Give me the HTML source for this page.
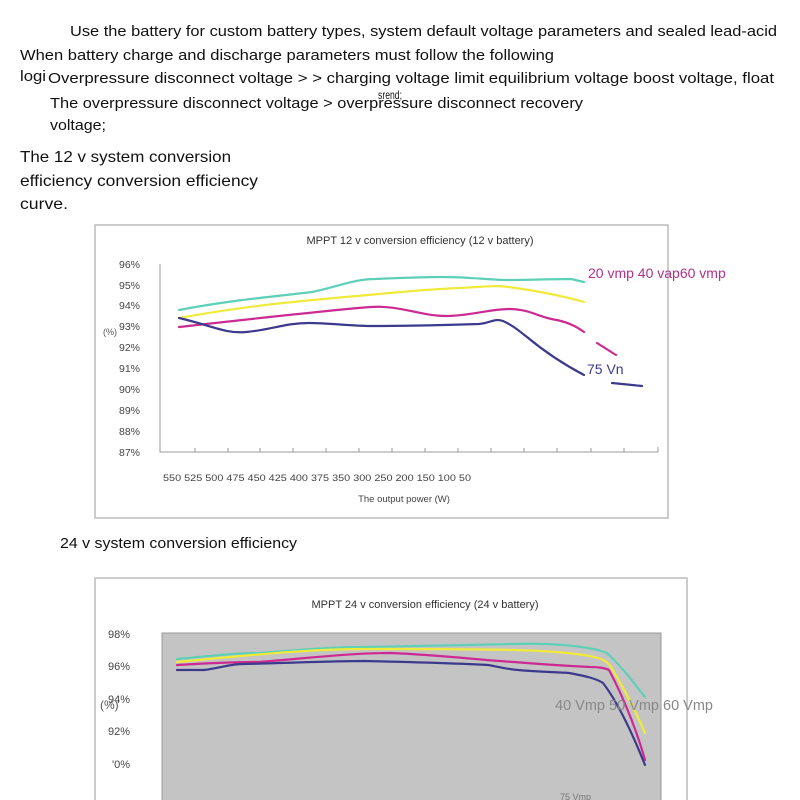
<!DOCTYPE html>
<html><head><meta charset="utf-8"><style>
html,body{margin:0;padding:0;background:#fff;}
svg{display:block;font-family:"Liberation Sans",sans-serif;}
</style></head><body>
<svg width="800" height="800" viewBox="0 0 800 800" xmlns="http://www.w3.org/2000/svg">
<rect width="800" height="800" fill="#fff"/>
<g fill="#111" font-size="15">
<text x="70" y="36" textLength="707" lengthAdjust="spacingAndGlyphs">Use the battery for custom battery types, system default voltage parameters and sealed lead-acid</text>
<text x="20" y="60" textLength="534" lengthAdjust="spacingAndGlyphs">When battery charge and discharge parameters must follow the following</text>
<text x="20" y="81" textLength="26" lengthAdjust="spacingAndGlyphs">logi</text>
<text x="48" y="83" textLength="726" lengthAdjust="spacingAndGlyphs">Overpressure disconnect voltage &gt; &gt; charging voltage limit equilibrium voltage boost voltage, float</text>
<text x="50" y="108" textLength="533" lengthAdjust="spacingAndGlyphs">The overpressure disconnect voltage &gt; overpressure disconnect recovery</text>
<text x="378" y="99" font-size="12" textLength="24" lengthAdjust="spacingAndGlyphs">srend;</text>
<text x="50" y="130" textLength="56" lengthAdjust="spacingAndGlyphs">voltage;</text>
<text x="20" y="162" font-size="16" textLength="211" lengthAdjust="spacingAndGlyphs">The 12 v system conversion</text>
<text x="20" y="186" font-size="16" textLength="238" lengthAdjust="spacingAndGlyphs">efficiency conversion efficiency</text>
<text x="20" y="209" font-size="16" textLength="48" lengthAdjust="spacingAndGlyphs">curve.</text>
<text x="60" y="548" font-size="15" textLength="237" lengthAdjust="spacingAndGlyphs">24 v system conversion efficiency</text>
</g>

<!-- Chart 1 -->
<rect x="95" y="225" width="573" height="293" fill="#fff" stroke="#bbb" stroke-width="1.5"/>
<text x="420" y="244" font-size="11" fill="#333" text-anchor="middle">MPPT 12 v conversion efficiency (12 v battery)</text>
<g font-size="10.5" fill="#444" text-anchor="end">
<text x="140" y="268">96%</text><text x="140" y="289">95%</text><text x="140" y="309">94%</text>
<text x="140" y="330">93%</text><text x="140" y="351">92%</text><text x="140" y="372">91%</text>
<text x="140" y="393">90%</text><text x="140" y="414">89%</text><text x="140" y="435">88%</text>
<text x="140" y="456">87%</text>
</g>
<text x="103" y="335" font-size="9" fill="#555">(%)</text>
<path d="M160 264 V452 H658" fill="none" stroke="#999" stroke-width="1"/>
<g stroke="#999" stroke-width="1">
<path d="M195 452v-4M228 452v-4M260 452v-4M293 452v-4M326 452v-4M359 452v-4M392 452v-4M425 452v-4M458 452v-4M491 452v-4M524 452v-4M557 452v-4M591 452v-4M624 452v-4M658 452v-5"/>
</g>
<text x="163" y="481" font-size="9.5" fill="#444" textLength="308" lengthAdjust="spacingAndGlyphs">550 525 500 475 450 425 400 375 350 300 250 200 150 100 50</text>
<text x="404" y="502" font-size="9.5" fill="#444" text-anchor="middle">The output power (W)</text>
<g fill="none" stroke-width="2.2" stroke-linecap="round" stroke-linejoin="round">
<path stroke="#5fd0b8" d="M179 310 C230 300 280 296 312 292 C340 286 355 279 375 279 C400 278 420 277 442 277 C470 277 490 280 509 280 C530 280 550 279 571 279 L584 282"/>
<path stroke="#f0ea3a" d="M179 318 C250 305 310 300 368 295 C400 292 430 289 460 288 C480 287 495 285 509 287 C530 290 560 295 584 302"/>
<path stroke="#cc2a92" d="M179 327 C260 318 330 310 371 307 C400 305 420 316 446 316 C470 316 490 309 509 309 C530 309 540 318 557 320 C570 323 577 327 584 332"/>
<path stroke="#cc2a92" d="M597 343 L616 355"/>
<path stroke="#3c3a8c" d="M179 318 C210 325 225 334 246 332 C270 330 285 323 309 323 C330 323 350 326 371 326 C410 326 450 325 479 324 C490 323 495 318 503 321 C512 325 518 330 527 337 C545 352 565 365 584 375"/>
<path stroke="#3c3a8c" d="M612 383 L642 386"/>
</g>
<text x="588" y="278" font-size="14" fill="#b0318a">20 vmp 40 vap60 vmp</text>
<text x="587" y="374" font-size="14" fill="#3c3a8c">75 Vn</text>

<!-- Chart 2 -->
<rect x="95" y="578" width="592" height="230" fill="#fff" stroke="#bbb" stroke-width="1.5"/>
<rect x="162" y="633" width="499" height="170" fill="#c4c4c4" stroke="#999" stroke-width="1"/>
<text x="425" y="608" font-size="11" fill="#333" text-anchor="middle">MPPT 24 v conversion efficiency (24 v battery)</text>
<g font-size="11" fill="#444" text-anchor="end">
<text x="130" y="638">98%</text><text x="130" y="670">96%</text><text x="130" y="703">94%</text>
<text x="130" y="735">92%</text><text x="130" y="768">'0%</text>
</g>
<text x="100" y="709" font-size="12" fill="#555">(%)</text>
<g fill="none" stroke-width="2.2" stroke-linecap="round" stroke-linejoin="round">
<path stroke="#5fd0b8" d="M177 659 C210 656 235 653 259 653 C300 650 330 647 365 647 C420 646 470 645 514 644 C550 643 575 645 598 650 C605 652 608 653 611 657 C625 670 635 685 645 697"/>
<path stroke="#f0ea3a" d="M177 662 C250 655 310 649 365 649 C420 649 470 649 514 650 C550 651 580 653 598 658 C605 660 608 663 611 667 C625 690 635 710 645 733"/>
<path stroke="#cc2a92" d="M177 665 C210 663 235 662 259 662 C310 658 350 653 391 653 C440 655 480 660 514 662 C550 665 570 666 590 667 C600 667 605 668 609 670 C625 700 638 735 645 760"/>
<path stroke="#3c3a8c" d="M177 670 L204 670 C220 668 230 664 243 664 C290 663 330 661 365 661 C410 662 450 663 488 665 C500 667 505 669 518 670 C540 672 555 672 569 673 C585 676 595 678 603 683 C620 705 635 740 645 765"/>
</g>
<text x="555" y="710" font-size="14.5" fill="#888">40 Vmp 50 Vmp 60 Vmp</text>
<text x="560" y="800" font-size="9" fill="#777">75 Vmp</text>
</svg>
</body></html>
